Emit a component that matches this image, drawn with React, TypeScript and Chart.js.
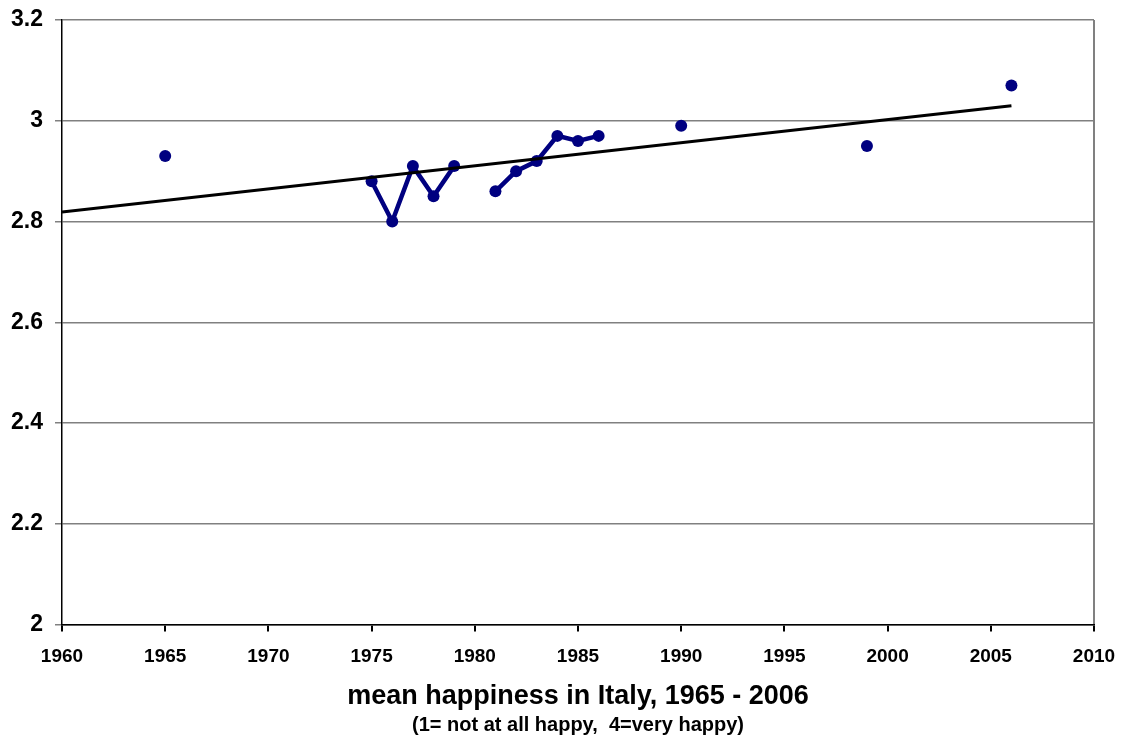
import React, { useEffect, useRef } from "react";
import { Chart, registerables } from "chart.js";

Chart.register(...registerables);

const years = [1965, 1975, 1976, 1977, 1978, 1979, 1981, 1982, 1983, 1984, 1985, 1986, 1990, 1999, 2006];
const happiness = [2.93, 2.88, 2.80, 2.91, 2.85, 2.91, 2.86, 2.90, 2.92, 2.97, 2.96, 2.97, 2.99, 2.95, 3.07];
const trendRange = [1960, 2006];
const yTickValues = [2, 2.2, 2.4, 2.6, 2.8, 3, 3.2];
const xTickValues = [1960, 1965, 1970, 1975, 1980, 1985, 1990, 1995, 2000, 2005, 2010];
const titleText = "mean happiness in Italy, 1965 - 2006";
const subtitleText = "(1= not at all happy,  4=very happy)";

const NAVY = "#000080";
const FONT = "'Liberation Sans', Arial, sans-serif";

function linearFit(xs: number[], ys: number[]) {
  const n = xs.length;
  const mx = xs.reduce((a, b) => a + b, 0) / n;
  const my = ys.reduce((a, b) => a + b, 0) / n;
  let sxy = 0, sxx = 0;
  for (let i = 0; i < n; i++) {
    sxy += (xs[i] - mx) * (ys[i] - my);
    sxx += (xs[i] - mx) * (xs[i] - mx);
  }
  const slope = sxy / sxx;
  return (x: number) => my + slope * (x - mx);
}

export default function App() {
  const ref = useRef<HTMLCanvasElement>(null);

  useEffect(() => {
    const fit = linearFit(years, happiness);
    const trend = trendRange.map((x) => ({ x, y: fit(x) }));
    const points = years.map((x, i) => ({ x, y: happiness[i] }));

    const chart = new Chart(ref.current!, {
      type: "scatter",
      data: {
        datasets: [
          {
            type: "line",
            data: trend,
            borderColor: "#000000",
            borderWidth: 3,
            pointRadius: 0,
            fill: false,
          } as any,
          {
            data: points,
            showLine: true,
            borderColor: NAVY,
            backgroundColor: NAVY,
            borderWidth: 4.5,
            pointRadius: 6,
            pointBorderWidth: 0,
            segment: {
              borderColor: (ctx: any) =>
                ctx.p1.parsed.x - ctx.p0.parsed.x > 1 ? "rgba(0,0,0,0)" : NAVY,
            },
          } as any,
        ],
      },
      options: {
        responsive: false,
        animation: false,
        devicePixelRatio: 1,
        layout: { padding: { top: 20, right: 28, bottom: 1, left: 0 } },
        plugins: {
          legend: { display: false },
          tooltip: { enabled: false },
          title: {
            display: true,
            position: "bottom",
            fullSize: false,
            text: titleText,
            color: "#000",
            font: { family: FONT, size: 27, weight: "bold" },
            padding: { top: 2, bottom: 0 },
            weight: 1000,
          } as any,
          subtitle: {
            display: true,
            position: "bottom",
            fullSize: false,
            text: subtitleText,
            color: "#000",
            font: { family: FONT, size: 20, weight: "bold" },
            padding: { top: 0, bottom: 0 },
            weight: 2000,
          } as any,
        },
        scales: {
          x: {
            type: "linear",
            min: xTickValues[0],
            max: xTickValues[xTickValues.length - 1],
            afterBuildTicks: (scale: any) => {
              scale.ticks = xTickValues.map((v) => ({ value: v }));
            },
            afterFit: (scale: any) => {
              scale.height = 54;
              scale.paddingLeft = 0;
              scale.paddingRight = 0;
            },
            ticks: {
              color: "#000",
              font: { family: FONT, size: 19, weight: "bold" },
              padding: 14,
              maxRotation: 0,
              autoSkip: false,
              callback: (v: any) => String(v),
            },
            grid: {
              color: (ctx: any) =>
                ctx.tick && ctx.tick.value === xTickValues[xTickValues.length - 1]
                  ? "#808080"
                  : "rgba(0,0,0,0)",
              lineWidth: 2,
              tickColor: "#000",
              tickLength: 7,
              drawTicks: true,
            },
            border: { color: "#000", width: 1.5 },
          },
          y: {
            type: "linear",
            min: yTickValues[0],
            max: yTickValues[yTickValues.length - 1],
            afterBuildTicks: (scale: any) => {
              scale.ticks = yTickValues.map((v) => ({ value: v }));
            },
            afterFit: (scale: any) => {
              scale.width = 62;
              scale.paddingTop = 0;
              scale.paddingBottom = 0;
            },
            ticks: {
              color: "#000",
              font: { family: FONT, size: 23, weight: "bold" },
              padding: 12,
              autoSkip: false,
              callback: (v: any) => String(Math.round(Number(v) * 10) / 10),
            },
            grid: {
              color: "#808080",
              lineWidth: 1.5,
              tickColor: "#808080",
              tickLength: 7,
            },
            border: { color: "#000", width: 1.5 },
          },
        },
      },
    });
    return () => chart.destroy();
  }, []);

  return (
    <div style={{ position: "absolute", left: 0, top: 0, width: 1122, height: 738, background: "#fff" }}>
      <canvas ref={ref} width={1122} height={738} style={{ display: "block" }} />
    </div>
  );
}
